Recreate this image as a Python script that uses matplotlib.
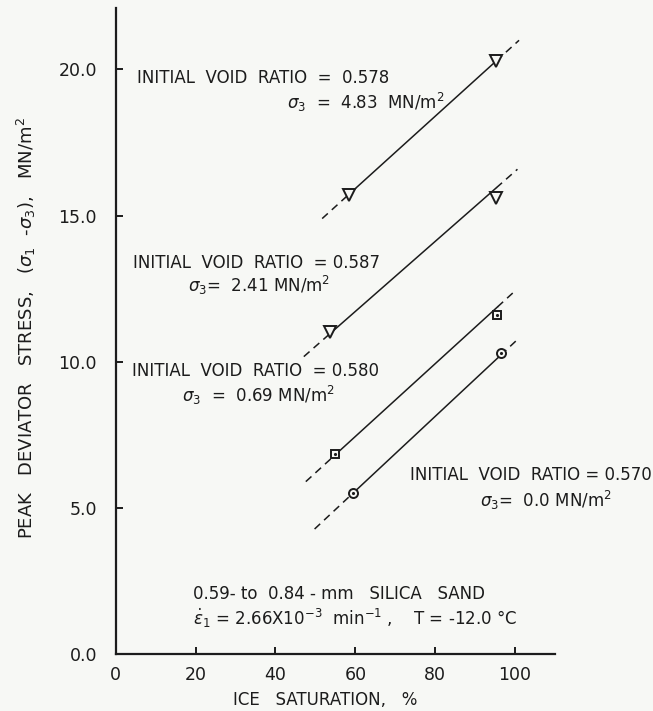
import numpy as np
import matplotlib.pyplot as plt

plt.rcParams['font.family'] = 'DejaVu Sans'
plt.rcParams['mathtext.fontset'] = 'dejavusans'

ink = '#1c1c1c'
bg = '#f7f8f5'

# marker points (ice saturation %, peak deviator stress MN/m2)
tri_hi_x = [58.5, 95.3]
tri_hi_y = [15.7, 20.3]
tri_lo_x = [53.6, 95.3]
tri_lo_y = [11.0, 15.6]
sq_x = [54.8, 95.6]
sq_y = [6.85, 11.6]
circ_x = [59.3, 96.4]
circ_y = [5.5, 10.3]

# fitted lines: slope, intercept, dashed extension range
fit_slope = [0.1237, 0.1198, 0.1245, 0.1276]
fit_icpt = [8.50, 4.53, -0.03, -2.08]
ext_lo = [51.7, 47.1, 47.6, 49.8]
ext_hi = [101.0, 100.6, 99.8, 100.8]

xticks = [0, 20, 40, 60, 80, 100]
yticks = [0.0, 5.0, 10.0, 15.0, 20.0]

fig = plt.figure(figsize=(6.53, 7.11), dpi=100, facecolor=bg)
ax = fig.add_axes([0.1772, 0.0802, 0.6727, 0.9086])
ax.set_facecolor(bg)

series = [(tri_hi_x, tri_hi_y), (tri_lo_x, tri_lo_y), (sq_x, sq_y), (circ_x, circ_y)]
for i, (xs, ys) in enumerate(series):
    m, b = fit_slope[i], fit_icpt[i]
    x0, x1 = min(xs), max(xs)
    ax.plot([x0, x1], [m*x0+b, m*x1+b], color=ink, lw=1.1)
    ax.plot([ext_lo[i], x0], [m*ext_lo[i]+b, m*x0+b], color=ink, lw=1.1, ls=(0, (5, 3.5)))
    ax.plot([x1, ext_hi[i]], [m*x1+b, m*ext_hi[i]+b], color=ink, lw=1.1, ls=(0, (5, 3.5)))

ax.plot(tri_hi_x, tri_hi_y, 'v', ms=8, mfc=bg, mec=ink, mew=1.4, ls='none')
ax.plot(tri_lo_x, tri_lo_y, 'v', ms=8, mfc=bg, mec=ink, mew=1.4, ls='none')
ax.plot(sq_x, sq_y, 's', ms=6, mfc=bg, mec=ink, mew=1.4, ls='none')
ax.plot(sq_x, sq_y, '.', ms=2.5, color=ink, ls='none')
ax.plot(circ_x, circ_y, 'o', ms=6.5, mfc=bg, mec=ink, mew=1.4, ls='none')
ax.plot(circ_x, circ_y, '.', ms=2.5, color=ink, ls='none')

ax.set_xlim(0, 110)
ax.set_ylim(0, 22.1)
ax.set_xticks(xticks)
ax.set_xticklabels([str(t) for t in xticks])
ax.set_yticks(yticks)
ax.set_yticklabels(['%.1f' % t for t in yticks])
for s in ['top', 'right']:
    ax.spines[s].set_visible(False)
for s in ['left', 'bottom']:
    ax.spines[s].set_linewidth(1.6)
    ax.spines[s].set_color(ink)
ax.tick_params(direction='in', length=5, width=1.4, colors=ink, labelsize=12.5)
ax.tick_params(axis='y', pad=13.5)
ax.tick_params(axis='x', pad=9)

ax.set_xlabel('ICE   SATURATION,   %', fontsize=12, color=ink)
ax.xaxis.set_label_coords(0.476, -0.058)
ax.set_ylabel(r'PEAK   DEVIATOR   STRESS,   ($\sigma_1$  -$\sigma_3$),   MN/m$^2$',
              fontsize=13, color=ink)
ax.yaxis.set_label_coords(-0.178, 0.505)

fs = 12
kw = dict(fontsize=fs, color=ink, ha='left', va='center')
ax.text(5.3, 19.70, 'INITIAL  VOID  RATIO  =  0.578', **kw)
ax.text(42.9, 18.87, r'$\sigma_3$  =  4.83  MN/m$^2$', **kw)
ax.text(4.4, 13.37, 'INITIAL  VOID  RATIO  = 0.587', **kw)
ax.text(18.1, 12.60, r'$\sigma_3$=  2.41 MN/m$^2$', **kw)
ax.text(4.1, 9.67, 'INITIAL  VOID  RATIO  = 0.580', **kw)
ax.text(16.6, 8.85, r'$\sigma_3$  =  0.69 MN/m$^2$', **kw)
ax.text(73.7, 6.12, 'INITIAL  VOID  RATIO = 0.570', **kw)
ax.text(91.2, 5.26, r'$\sigma_3$=  0.0 MN/m$^2$', **kw)
ax.text(19.4, 2.06, '0.59- to  0.84 - mm   SILICA   SAND', **kw)
ax.text(19.4, 1.22, r'$\dot{\epsilon}_1$ = 2.66X10$^{-3}$  min$^{-1}$ ,    T = -12.0 °C', **kw)

fig.savefig('out.png', dpi=100, facecolor=bg)
